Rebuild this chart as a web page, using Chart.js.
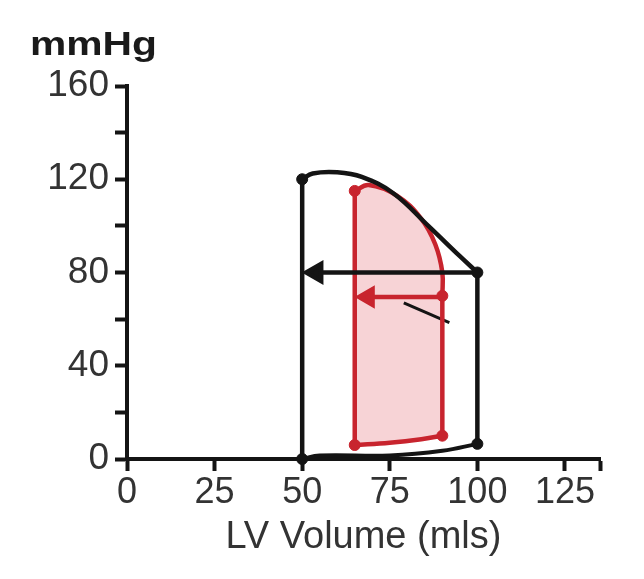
<!DOCTYPE html>
<html>
<head>
<meta charset="utf-8">
<script src="https://cdn.jsdelivr.net/npm/chart.js@4"></script>
<style>
  html, body { margin: 0; padding: 0; background: #fff; }
  #wrap { width: 644px; height: 579px; }
</style>
</head>
<body>
<div id="wrap"><canvas id="pv"></canvas></div>
<script>
// axis ticks
const xTicks = [0, 25, 50, 75, 100, 125];
const xMax = 135;
const yTicks = [0, 40, 80, 120, 160];

// baseline loop (black)
const blackEjectVol = [50, 53, 60, 67, 76, 86, 95, 100];
const blackEjectP   = [120, 122.5, 123, 121, 114, 100, 87, 80];
const blackRelaxVol = [50, 50];
const blackRelaxP   = [120, 0];
const blackFillVol  = [50, 55, 75, 90, 100];
const blackFillP    = [0, 1.5, 1.5, 3.5, 6.5];
const blackContrVol = [100, 100];
const blackContrP   = [6.5, 80];
const blackCornerVol = [50, 100, 100, 50];
const blackCornerP   = [120, 80, 6.5, 0];

// reduced loop (red)
const redEjectVol = [65, 69, 77, 84, 88, 90, 90];
const redEjectP   = [115, 117.5, 113, 103, 92, 80, 70];
const redRelaxVol = [65, 65];
const redRelaxP   = [115, 6];
const redFillVol  = [65, 75, 84, 90];
const redFillP    = [6, 7, 8.5, 10];
const redContrVol = [90, 90];
const redContrP   = [10, 70];
const redCornerVol = [65, 90, 90, 65];
const redCornerP   = [115, 70, 10, 6];

// arrows and stray stroke
const blackArrowVol = [100, 54];
const blackArrowP   = [80, 80];
const redArrowVol = [90, 68.8];
const redArrowP   = [69.5, 69.5];
const strokeVol = [79, 92];
const strokeP   = [67, 58.5];

const BLACK = '#141414';
const RED = '#c8242e';

function pts(xs, ys) { return xs.map((x, i) => ({ x: x, y: ys[i] })); }

const redShape = [
  ...pts(redEjectVol, redEjectP),
  ...pts(redContrVol, redContrP).reverse(),
  ...pts(redFillVol, redFillP).reverse()
];

function seg(xs, ys, color, width, tension) {
  return {
    data: pts(xs, ys), borderColor: color, borderWidth: width,
    pointRadius: 0, tension: tension || 0, fill: false, clip: false, order: 2
  };
}

const mmHgLabel = {
  id: 'mmHgLabel',
  afterDraw(chart) {
    const ctx = chart.ctx;
    ctx.save();
    ctx.font = 'bold 34px "Liberation Sans", Arial, sans-serif';
    ctx.fillStyle = '#1a1a1a';
    ctx.textBaseline = 'alphabetic';
    ctx.translate(30, 55);
    ctx.scale(1.2, 1);
    ctx.fillText('mmHg', 0, 0);
    ctx.restore();
  }
};

new Chart(document.getElementById('pv'), {
  type: 'line',
  data: {
    datasets: [
      {
        data: redShape, borderWidth: 0, pointRadius: 0,
        backgroundColor: 'rgba(236, 150, 158, 0.42)', fill: 'shape', order: 10
      },
      seg(blackEjectVol, blackEjectP, BLACK, 4.5, 0.4),
      seg(blackRelaxVol, blackRelaxP, BLACK, 4.5),
      seg(blackFillVol, blackFillP, BLACK, 4, 0.4),
      seg(blackContrVol, blackContrP, BLACK, 4.5),
      seg(redEjectVol, redEjectP, RED, 4.5, 0.4),
      seg(redRelaxVol, redRelaxP, RED, 4.5),
      seg(redFillVol, redFillP, RED, 4.5, 0.4),
      seg(redContrVol, redContrP, RED, 4.5),
      seg(strokeVol, strokeP, BLACK, 3),
      {
        data: pts(redArrowVol, redArrowP), borderColor: RED, borderWidth: 4.5,
        pointRadius: [0, 9], pointStyle: 'triangle', rotation: -90,
        pointBackgroundColor: RED, pointBorderColor: RED, clip: false, order: 1
      },
      {
        data: pts(blackArrowVol, blackArrowP), borderColor: BLACK, borderWidth: 4.5,
        pointRadius: [0, 10], pointStyle: 'triangle', rotation: -90,
        pointBackgroundColor: BLACK, pointBorderColor: BLACK, clip: false, order: 1
      },
      {
        data: pts(redCornerVol, redCornerP), showLine: false, pointRadius: 5.5,
        pointBackgroundColor: RED, pointBorderColor: RED, clip: false, order: 0
      },
      {
        data: pts(blackCornerVol, blackCornerP), showLine: false, pointRadius: 5.5,
        pointBackgroundColor: BLACK, pointBorderColor: BLACK, clip: false, order: 0
      }
    ]
  },
  options: {
    responsive: true,
    maintainAspectRatio: false,
    animation: false,
    layout: { padding: { top: 86, right: 44, left: 0, bottom: 0 } },
    plugins: {
      legend: { display: false },
      tooltip: { enabled: false },
      title: { display: false }
    },
    scales: {
      x: {
        type: 'linear', min: 0, max: xMax,
        afterBuildTicks: s => { s.ticks = [...xTicks, xMax].map(v => ({ value: v })); },
        afterFit: s => { s.height = 120; },
        ticks: {
          padding: 0, color: '#333', maxRotation: 0, autoSkip: false,
          font: { family: '"Liberation Sans", Arial, sans-serif', size: 36 },
          callback: v => xTicks.includes(v) ? String(v) : ''
        },
        grid: { drawOnChartArea: false, drawTicks: true, tickLength: 12, tickWidth: 4, tickColor: BLACK },
        border: { display: true, width: 4, color: BLACK },
        title: {
          display: true, text: 'LV Volume (mls)', color: '#333',
          font: { family: '"Liberation Sans", Arial, sans-serif', size: 38 },
          padding: { top: 0, bottom: 19 }
        }
      },
      y: {
        type: 'linear', min: 0, max: 160,
        afterBuildTicks: s => {
          const t = [];
          for (let i = 0; i < yTicks.length; i++) {
            t.push({ value: yTicks[i] });
            if (i < yTicks.length - 1) t.push({ value: (yTicks[i] + yTicks[i + 1]) / 2 });
          }
          s.ticks = t;
        },
        afterFit: s => { s.width = 127; },
        ticks: {
          padding: 6, color: '#333', autoSkip: false,
          font: { family: '"Liberation Sans", Arial, sans-serif', size: 37 },
          callback: v => yTicks.includes(v) ? String(v) : ''
        },
        grid: { drawOnChartArea: false, drawTicks: true, tickLength: 12, tickWidth: 4, tickColor: BLACK },
        border: { display: true, width: 4, color: BLACK }
      }
    }
  },
  plugins: [mmHgLabel]
});
</script>
</body>
</html>
